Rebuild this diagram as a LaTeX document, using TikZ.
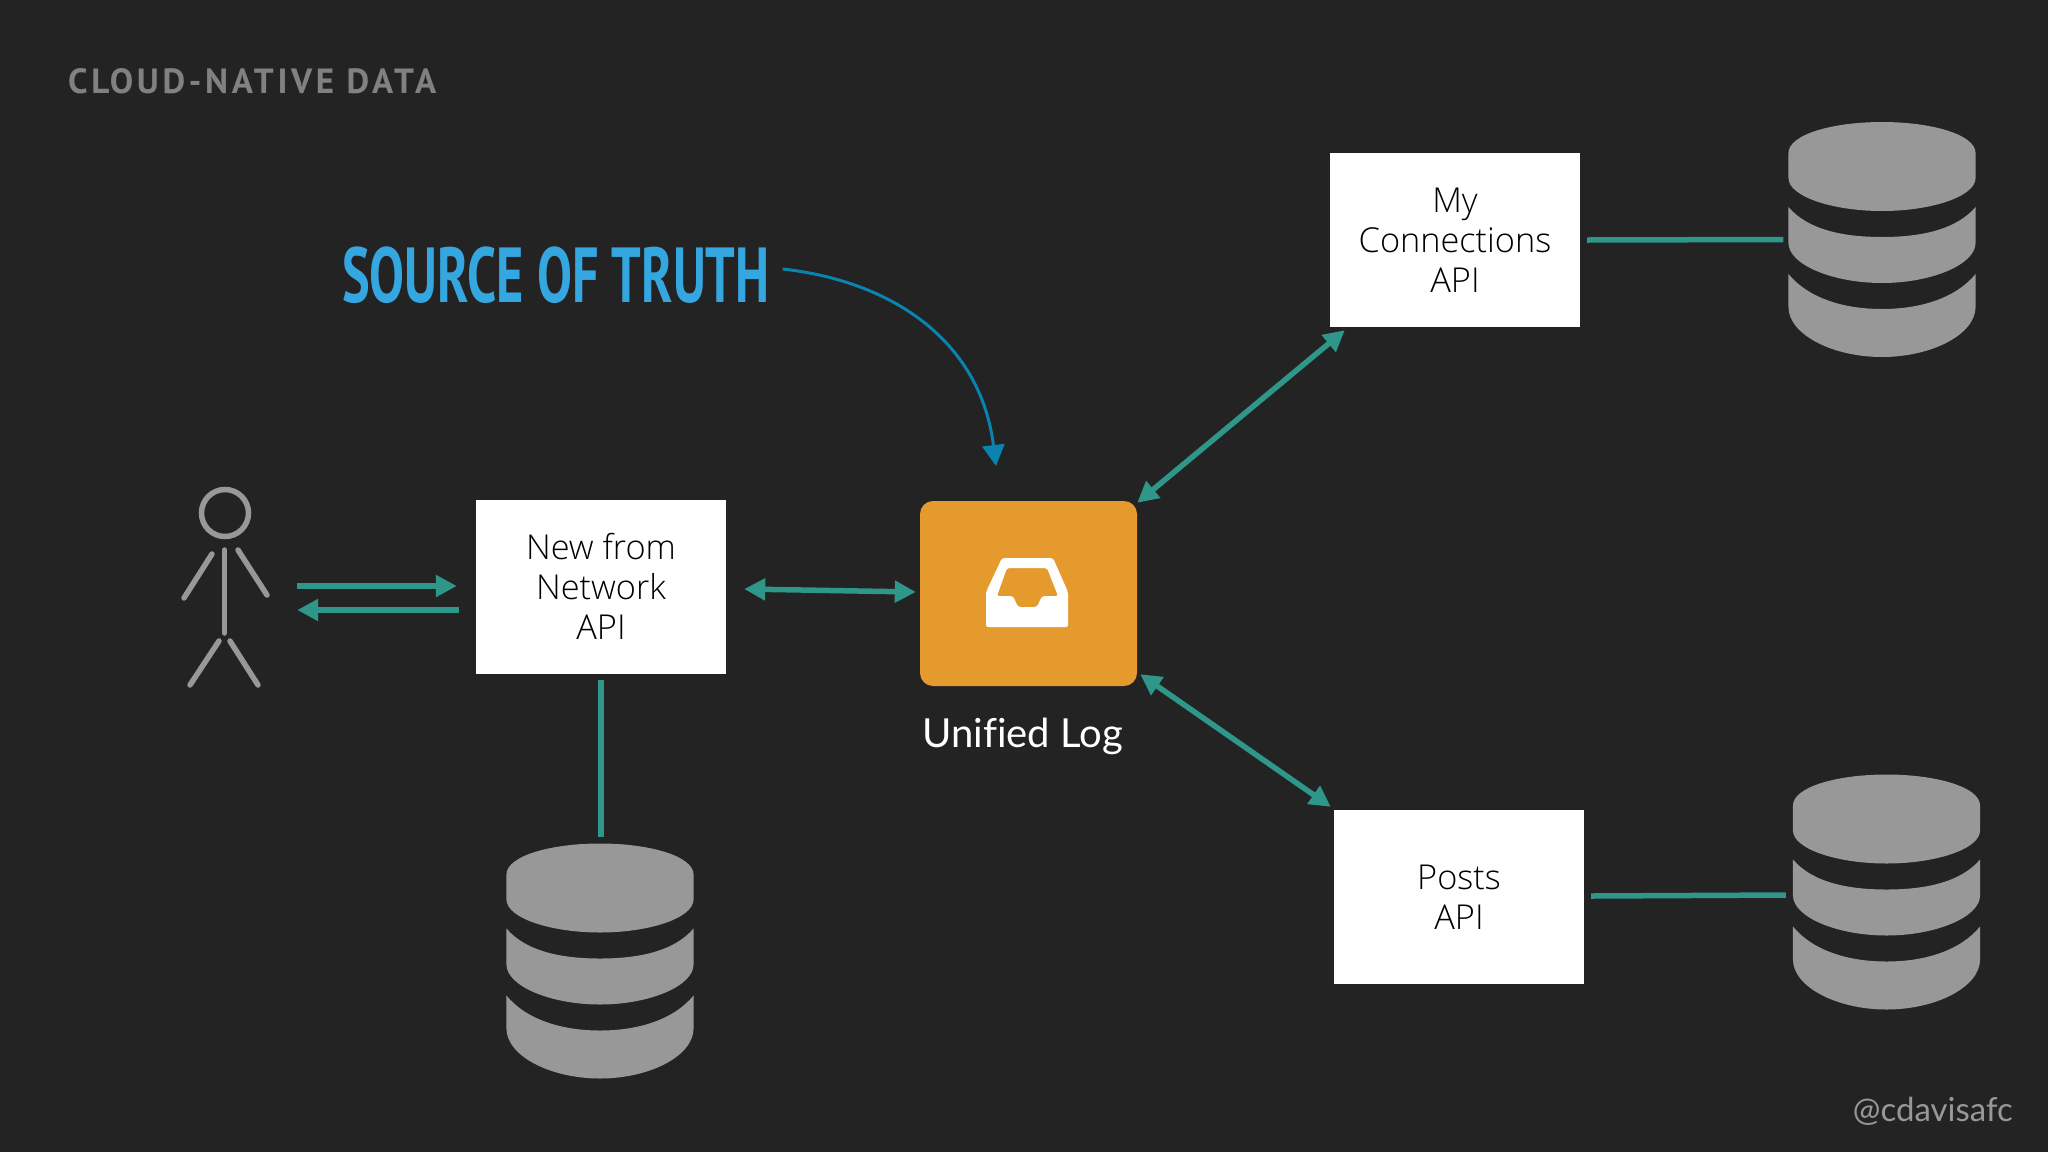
\documentclass[tikz,border=0pt]{standalone}
\usepackage{fontspec}
\usepackage{tikz}
\usetikzlibrary{calc,arrows.meta}
\setmainfont{Liberation Sans}
\newfontfamily\boxfont{Open Sans Light}
\newfontfamily\logfont[Ligatures=NoCommon]{Lato}
\newfontfamily\titlefont[LetterSpace=10.5]{PT Sans}
\newfontfamily\truthfont[FakeStretch=0.67]{PT Sans}
\definecolor{slide}{HTML}{232324}
\definecolor{teal}{HTML}{2F9789}
\definecolor{stone}{HTML}{999898}
\definecolor{amber}{HTML}{E59A2E}
\definecolor{sky}{HTML}{35A7E0}
\definecolor{deepsky}{HTML}{0A83AF}
\tikzset{
  database/.pic={
    \fill[stone] (-94.5,-86.5) .. controls (-94.5,-105) and (-50,-117.5) .. (0,-117.5)
      .. controls (50,-117.5) and (94.5,-105) .. (94.5,-86.5) -- (94.5,-61.5)
      .. controls (94.5,-43) and (50,-28.5) .. (0,-28.5)
      .. controls (-50,-28.5) and (-94.5,-43) .. (-94.5,-61.5) -- cycle;
    \fill[stone] (-94.5,-32.5) .. controls (-75,-10) and (-40,-2.5) .. (0,-2.5)
      .. controls (40,-2.5) and (75,-10) .. (94.5,-32.5) -- (94.5,3.5)
      .. controls (94.5,25) and (50,43.5) .. (0,43.5)
      .. controls (-50,43.5) and (-94.5,25) .. (-94.5,3.5) -- cycle;
    \fill[stone] (-94.5,34.5) .. controls (-75,58) and (-40,69.5) .. (0,69.5)
      .. controls (40,69.5) and (75,58) .. (94.5,34.5) -- (94.5,67.5)
      .. controls (94.5,95) and (50,117.5) .. (0,117.5)
      .. controls (-50,117.5) and (-94.5,95) .. (-94.5,67.5) -- cycle;
  }
}
\begin{document}
\begin{tikzpicture}[x=1pt,y=-1pt]
       \tikzstyle{api} = [rectangle, fill=white, text=black, minimum width=250pt, minimum height=174pt, align=center, font=\boxfont\fontsize{34.3}{40}\selectfont];
       \tikzstyle{store} = [minimum width=187pt, minimum height=235pt, inner sep=0pt];
       \tikzstyle{link} = [teal, line width=5.5pt];
       \tikzstyle{flow} = [link, -{Triangle[width=21pt,length=21pt]}];
       \tikzstyle{both} = [link, {Triangle[width=21pt,length=21pt]}-{Triangle[width=21pt,length=21pt]}];
       \tikzstyle{limb} = [stone, line width=5.5pt, line cap=round];

       \useasboundingbox (0,0) rectangle (2048,1151.8);
       \fill[slide] (0,0) rectangle (2048,1152);

       \node(title)[anchor=base west, text=stone!85!black, font=\titlefont\bfseries\fontsize{35}{40}\selectfont, inner sep=0pt] at (68,93) {CLOUD-NATIVE DATA};
       \node(truth)[anchor=base west, text=sky, font=\truthfont\bfseries\fontsize{78}{80}\selectfont, inner sep=0pt] at (342,302) {SOURCE OF TRUTH};
       \node(handle)[anchor=base east, text=stone, font=\logfont\fontsize{33}{36}\selectfont, inner sep=0pt] at (2013,1121) {@cdavisafc};

       \node(news)[api] at (601,586.5) {New from\\Network\\API};
       \node(connections)[api] at (1455,240) {My\\Connections\\API};
       \node(posts)[api] at (1459,897) {Posts\\API};
       \node(log)[fill=amber, rounded corners=13pt, minimum width=217pt, minimum height=185pt] at (1028.5,593.5) {};
       \node(loglabel)[anchor=base west, text=white, font=\logfont\fontsize{40}{42}\selectfont, inner sep=0pt] at (922,747) {Unified Log};

       \node(dbnews)[store] at (600,961) {};
       \node(dbconnections)[store] at (1882,239.5) {};
       \node(dbposts)[store] at (1886.5,892) {};
       \pic[xscale=0.99] at (dbnews) {database};
       \pic[xscale=0.99] at (dbconnections) {database};
       \pic[xscale=0.99] at (dbposts) {database};

       % inbox
       \fill[white, even odd rule, rounded corners=2pt]
         (1002,558) -- (1053,558) -- (1068,592) -- (1068,627) -- (986,627) -- (986,592) -- cycle
         (1007,568) -- (1047,568) -- (1058,596) -- (1042,596) -- (1037,607) -- (1018,607) -- (1013,596) -- (997,596) -- cycle;

       % person
       \node(person)[minimum width=88pt, minimum height=203pt, inner sep=0pt] at (225,588) {};
       \node(head)[circle, draw=stone, line width=5.5pt, minimum size=47pt, inner sep=0pt] at (225,513) {};
       \draw[limb] (224.5,550) -- (224.5,633);
       \draw[limb] (212,554) -- (184,598);
       \draw[limb] (238,550) -- (267,595);
       \draw[limb] (219,641) -- (190,685);
       \draw[limb] (230,641) -- (258,685);

       \draw[flow] ($(person.east)+(28,-2)$) -- ($(news.west)+(-19,-0.5)$);
       \draw[flow] ($(news.west)+(-17,23.5)$) -- ($(person.east)+(28,22)$);
       \draw[both] ($(news.east)+(18,2.5)$) -- ($(log.west)+(-4,-1.5)$);
       \draw[both] ($(log.north east)+(0,2)$) -- ($(connections.south west)+(15,3)$);
       \draw[both] ($(log.south east)+(3,-12)$) -- ($(posts.north west)+(-3,-3)$);

       \draw[link] ($(connections.east)+(7,0)$) -- ($(dbconnections.west)+(-5,0)$);
       \draw[link] ($(posts.east)+(7,-1)$) -- ($(dbposts.west)+(-7,3)$);
       \draw[link] ($(news.south)+(0,6)$) -- ($(dbnews.north)+(1,-6)$);

       \coordinate(truthtip) at (996,466);
       \draw[deepsky, line width=3pt, -{Triangle[width=22pt,length=21pt]}] ($(truth.base east)+(13,-33)$) .. controls (898,282) and (981,345) .. (truthtip);
\end{tikzpicture}
\end{document}
